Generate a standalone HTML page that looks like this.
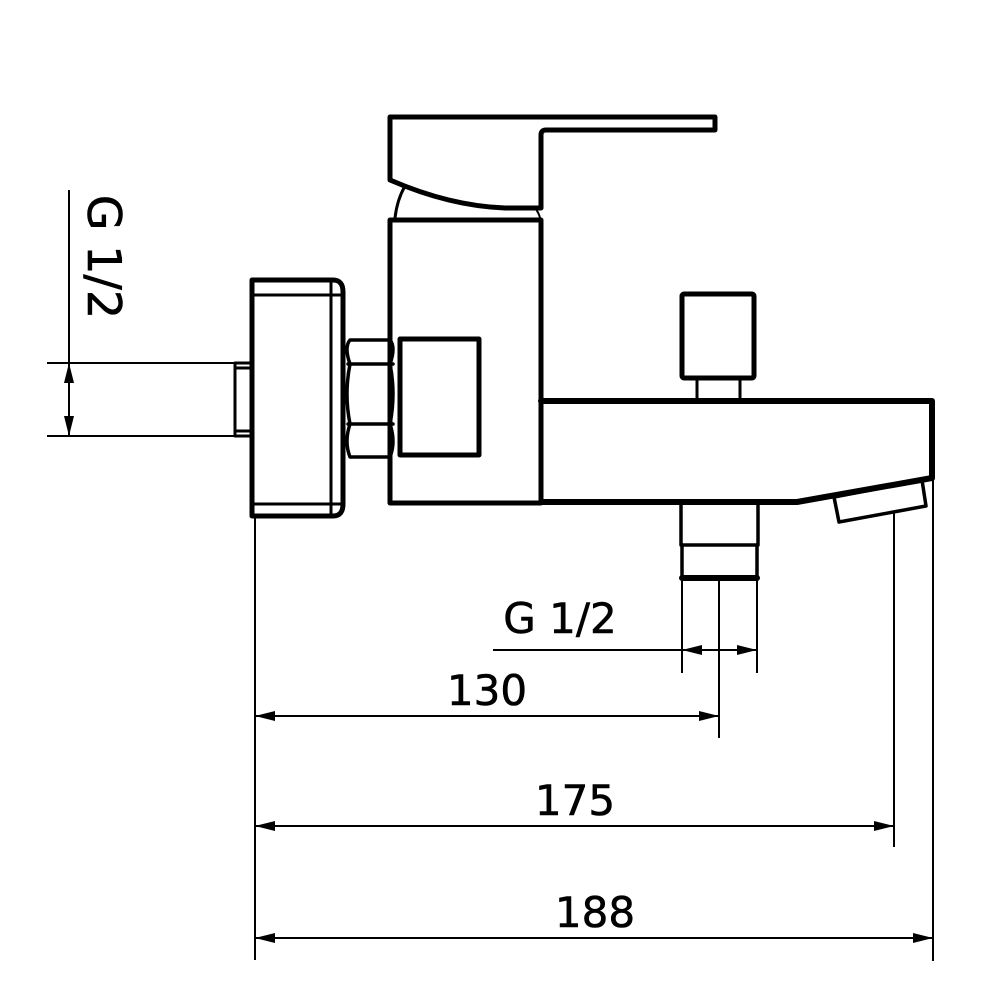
<!DOCTYPE html>
<html><head><meta charset="utf-8"><style>html,body{margin:0;padding:0;background:#fff}svg{display:block}</style></head>
<body>
<svg width="1000" height="1000" viewBox="0 0 1000 1000" xmlns="http://www.w3.org/2000/svg">
<defs>
<marker id="a" viewBox="0 0 20 10" refX="20" refY="5" markerWidth="20" markerHeight="10" markerUnits="userSpaceOnUse" orient="auto-start-reverse">
<path d="M0,0 L20,5 L0,10 Z" fill="#000"/></marker>
</defs>
<g fill="none" stroke="#000" stroke-linejoin="round" stroke-linecap="round">
<path d="M390,117 L715,117 L715,130 L546,130 Q541,130 541,135 L541,208 L505,208 Q450,206 390,180 Z" stroke-width="5"/>
<path d="M395,218 Q397,200 405,186" stroke-width="3"/>
<path d="M535,208 Q539,213 540,218" stroke-width="2"/>
<path d="M390,220 L541,220 L541,503 L390,503 Z" stroke-width="5"/>
<path d="M541,401 L932,401 L932,478 L797,502 L541,502" stroke-width="6"/>
<path d="M834,497 L922,480 L926,506 L839,522 Z" stroke-width="3.5"/>
<rect x="682" y="294" width="72" height="84" rx="2" stroke-width="5"/>
<path d="M697,378 L697,401 M740,378 L740,401" stroke-width="3"/>
<path d="M681,503 L681,545 M758,503 L758,545 M682,545 L757,545" stroke-width="3.5"/>
<path d="M682,545 L682,578 M757,545 L757,578" stroke-width="3.5"/>
<path d="M682,578 L757,578" stroke-width="6"/>
<path d="M252,280 L333,280 Q343,280 343,292 L343,504 Q343,516 333,516 L252,516 Z" stroke-width="5"/>
<path d="M252,295 L342,295 M252,504 L342,504 M331,281 L331,515" stroke-width="3"/>
<path d="M350,340 L390,340 Q396,347 390,364 Q396,394 390,424 Q396,442 390,457 L350,457 Q344,442 350,424 Q344,394 350,364 Q344,347 350,340 Z" stroke-width="3.5"/>
<path d="M348,364 L393,364 M348,424 L393,424" stroke-width="3.5"/>
<rect x="400" y="339" width="79" height="116" stroke-width="5"/>
<path d="M252,363 L235,363 L235,436 L252,436 M235,368 L252,368 M235,431 L252,431" stroke-width="3"/>
</g>
<g fill="none" stroke="#000" stroke-width="2">
<path d="M47,363 L235,363 M47,436 L235,436 M69,190 L69,363"/>
<path d="M69,383 L69,363" marker-end="url(#a)"/>
<path d="M69,400 L69,436" marker-end="url(#a)"/>
<path d="M69,383 L69,400"/>
<path d="M255,516 L255,960 M719,578 L719,738 M682,578 L682,673 M757,578 L757,673 M894,512 L894,847 M933,478 L933,961"/>
<path d="M493,650 L757,650"/>
<path d="M700,650 L682,650" marker-end="url(#a)"/>
<path d="M740,650 L757,650" marker-end="url(#a)"/>
<path d="M255,716 L719,716" marker-start="url(#a)" marker-end="url(#a)"/>
<path d="M255,826 L894,826" marker-start="url(#a)" marker-end="url(#a)"/>
<path d="M255,938 L933,938" marker-start="url(#a)" marker-end="url(#a)"/>
</g>
<g font-family="'DejaVu Sans', 'Liberation Sans', sans-serif" font-size="42" fill="#000" stroke="#000" stroke-width="0.6">
<text x="560" y="633" text-anchor="middle">G 1/2</text>
<text x="487" y="705" text-anchor="middle">130</text>
<text x="575" y="815" text-anchor="middle">175</text>
<text x="595" y="927" text-anchor="middle">188</text>
<text transform="translate(88,257) rotate(90)" text-anchor="middle" font-size="46">G 1/2</text>
</g>
</svg>
</body></html>
